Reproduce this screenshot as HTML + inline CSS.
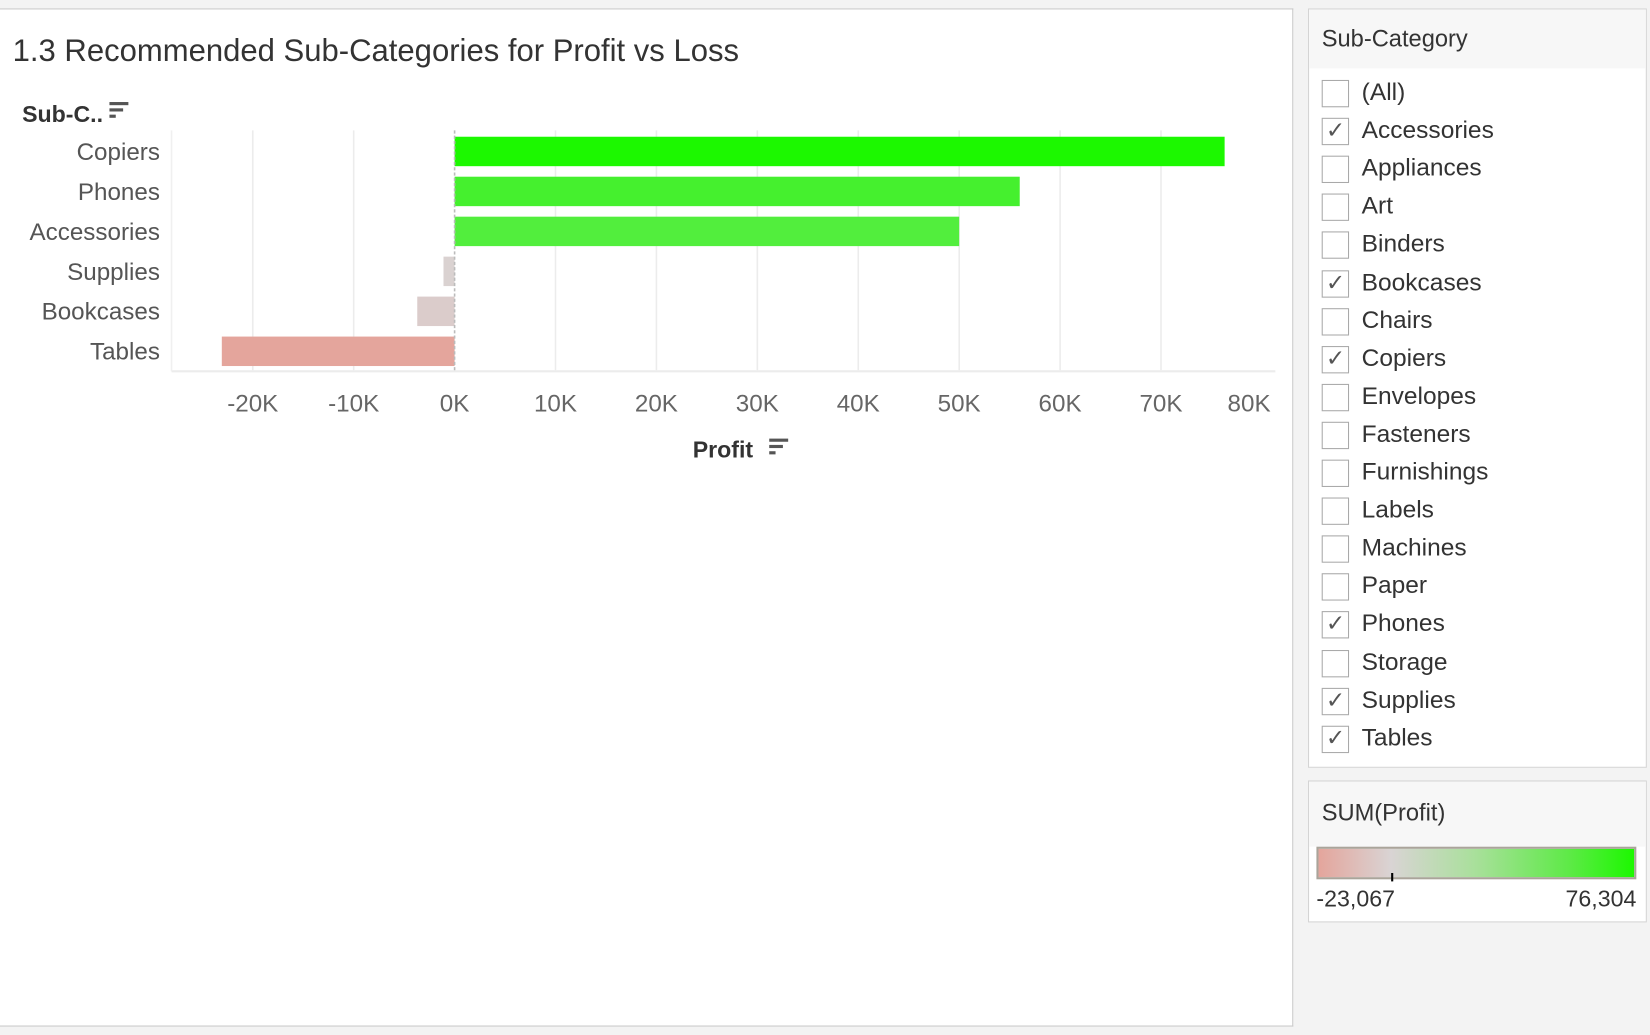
<!DOCTYPE html>
<html><head><meta charset="utf-8">
<style>
html,body{margin:0;padding:0;width:1650px;height:1035px;overflow:hidden;background:#fff;font-family:"Liberation Sans","DejaVu Sans",sans-serif;}
#wrap{position:absolute;left:0;top:0;width:1568px;height:984px;transform:scale(1.0523,1.0518);transform-origin:0 0;background:#f3f3f3;}
.abs{position:absolute;}
#main{position:absolute;left:0;top:8px;width:1228px;height:966px;background:#fff;border:1px solid #c9c9c9;border-left:none;}
.filter-item{position:absolute;left:12px;height:30px;font-size:23.3px;color:#333;}
.cb{position:absolute;left:0;top:0;width:24px;height:24px;border:1px solid #a9a9a9;background:#fff;}
.cb span{position:absolute;left:3px;top:-2px;font-size:22px;color:#555;}
.lbl{position:absolute;left:38px;top:-2px;white-space:nowrap;}
</style></head><body>
<div id="wrap">
 <div id="main">
  <div class="abs" style="left:12px;top:23px;font-size:29.5px;color:#333;">1.3 Recommended Sub-Categories for Profit vs Loss</div>
  <svg id="chart" class="abs" style="left:0;top:-17px" width="1228" height="480"></svg>
 </div>
 <div class="abs" style="left:1243px;top:8px;width:320px;height:720px;background:#fff;border:1px solid #d4d4d4;">
  <div class="abs" style="left:0;top:0;width:320px;height:56px;background:#f7f7f7;"></div>
  <div class="abs" style="left:12px;top:15px;font-size:22.5px;color:#333;">Sub-Category</div>
  <div id="flist"></div>
 </div>
 <div class="abs" style="left:1243px;top:742px;width:320px;height:133px;background:#fff;border:1px solid #d4d4d4;">
  <div class="abs" style="left:0;top:0;width:320px;height:62px;background:#f7f7f7;"></div>
  <div class="abs" style="left:12px;top:17px;font-size:22.5px;color:#333;">SUM(Profit)</div>
  <div class="abs" style="left:7px;top:62px;width:300px;height:27px;border:2px solid #aaa49a;background:linear-gradient(to right,#e4a59c,#d9d4d4 23%,#a8e09a 50%,#5cea45 80%,#1cf800);"></div>
  <div class="abs" style="left:78px;top:87px;width:2px;height:8px;background:#000;"></div>
  <div class="abs" style="left:7px;top:99px;font-size:22px;color:#333;">-23,067</div>
  <div class="abs" style="right:9px;top:99px;font-size:22px;color:#333;">76,304</div>
 </div>
</div>
<script>
const categories=["Copiers","Phones","Accessories","Supplies","Bookcases","Tables"];
const profits=[76304,56000,50000,-1100,-3700,-23067];
const ticks=[-20000,-10000,0,10000,20000,30000,40000,50000,60000,70000,80000];
const tickLabels=["-20K","-10K","0K","10K","20K","30K","40K","50K","60K","70K","80K"];
const filterItems=["(All)","Accessories","Appliances","Art","Binders","Bookcases","Chairs","Copiers","Envelopes","Fasteners","Furnishings","Labels","Machines","Paper","Phones","Storage","Supplies","Tables"];
const filterChecked=[0,1,0,0,0,1,0,1,0,0,0,0,0,0,1,0,1,1];

const NS="http://www.w3.org/2000/svg";
const svg=document.getElementById('chart');
const x0=432, pxPer=95.9/10000;
const xs=v=>x0+v*pxPer;
const rowY=i=>136+38*i;
const MIN=-23067,MAX=76304;
function lerp(a,b,t){return a.map((c,k)=>Math.round(c+(b[k]-c)*t));}
function color(v){
 if(v<0){const t=Math.min(1,-v/(-MIN));return lerp([217,212,212],[228,165,156],t);}
 const t=Math.pow(v/MAX,0.8);return lerp([217,212,212],[28,248,0],t);}
function mk(tag,attrs,text){const e=document.createElementNS(NS,tag);for(const k in attrs)e.setAttribute(k,attrs[k]);if(text!=null)e.textContent=text;svg.appendChild(e);return e;}
ticks.forEach((t,i)=>{
 const px=xs(t);
 if(t!==0 && px<1195){const g=mk('line',{x1:px,x2:px,y1:132,y2:360,stroke:'#ececec','stroke-width':1.5});
 
 }
 const lx=Math.min(px,1187);
 const l=mk('text',{x:lx,y:399,'text-anchor':'middle','font-size':23,fill:'#666'},tickLabels[i]);
 
 
});
const ax=mk('line',{x1:163,x2:1212,y1:361,y2:361,stroke:'#ececec','stroke-width':2});


const ay=mk('line',{x1:163,x2:163,y1:132,y2:361,stroke:'#f0f0f0','stroke-width':1.5});


categories.forEach((c,i)=>{
 const v=profits[i];const col=color(v);
 const r=mk('rect',{x:Math.min(xs(0),xs(v)),y:rowY(i)+2,width:Math.abs(xs(v)-xs(0)),height:28,fill:`rgb(${col})`});
 
 
 const t=mk('text',{x:152,y:rowY(i)+24,'text-anchor':'end','font-size':23,fill:'#555'},c);
 
 
});
const zl=mk('line',{x1:xs(0),x2:xs(0),y1:132,y2:360,stroke:'#bbb','stroke-width':1.5,'stroke-dasharray':'3,2'});


const yt=mk('text',{x:21,y:124,'font-size':22,'font-weight':'bold',fill:'#333'},'Sub-C..');


function sortIcon(x,y,name){const g=document.createElementNS(NS,'g');
 [18,13,6].forEach((w,k)=>{const r=document.createElementNS(NS,'rect');r.setAttribute('x',x);r.setAttribute('y',y+k*6);r.setAttribute('width',w);r.setAttribute('height',3);r.setAttribute('fill','#555');g.appendChild(r);});svg.appendChild(g);}
sortIcon(104,105,'y-sort-icon');
const xt=mk('text',{x:687,y:443,'text-anchor':'middle','font-size':22,'font-weight':'bold',fill:'#333'},'Profit');


sortIcon(731,425,'x-sort-icon');

const fl=document.getElementById('flist');
filterItems.forEach((n,i)=>{
 const d=document.createElement('div');d.className='filter-item';d.style.top=(67+36.1*i)+'px';
 
 
 d.innerHTML='<div class="cb">'+(filterChecked[i]?'<span>✓</span>':'')+'</div><div class="lbl">'+n+'</div>';
 fl.appendChild(d);
});
</script>
</body></html>
